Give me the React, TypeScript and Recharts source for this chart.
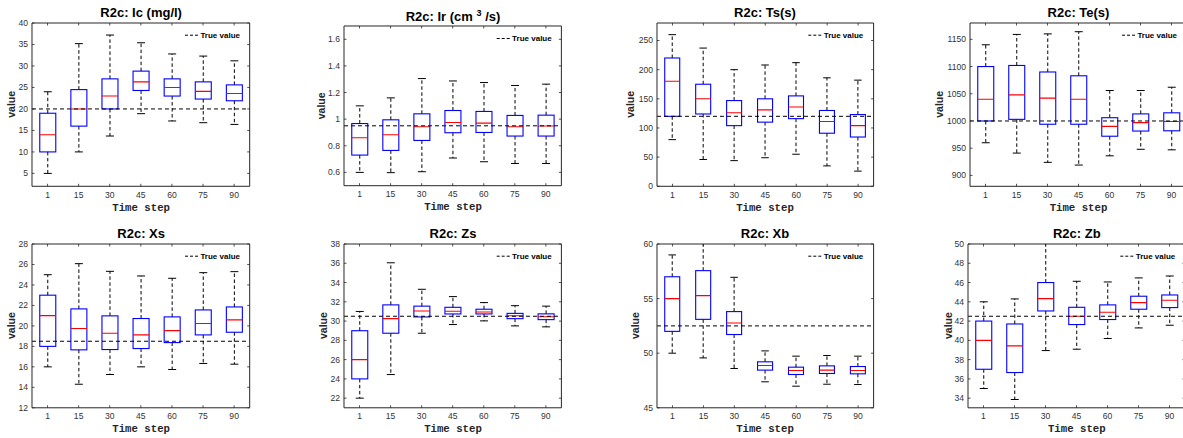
import React from 'react';
import { ComposedChart, Bar, XAxis, YAxis, ReferenceLine } from 'recharts';

const timeSteps = ['1', '15', '30', '45', '60', '75', '90'];

// each entry: [lower whisker, Q1, median, Q3, upper whisker]
const icBoxes = [[5, 10, 14, 19, 24], [10, 16, 20, 24.5, 35.2], [13.7, 20, 23, 27, 37.2], [18.9, 24.3, 26.3, 28.8, 35.4], [17.2, 23, 25, 27, 32.8], [16.8, 22.3, 24.1, 26.3, 32.3], [16.4, 21.9, 23.6, 25.6, 31.2]];
const irBoxes = [[0.6, 0.73, 0.86, 0.967, 1.1], [0.598, 0.765, 0.883, 0.995, 1.16], [0.605, 0.84, 0.943, 1.04, 1.305], [0.708, 0.898, 0.975, 1.065, 1.287], [0.68, 0.9, 0.97, 1.058, 1.275], [0.667, 0.873, 0.943, 1.028, 1.253], [0.667, 0.873, 0.948, 1.03, 1.263]];
const tsBoxes = [[80, 120, 180, 220, 260], [46, 124, 150, 175, 237], [44, 104, 126, 147, 200], [49, 110, 131, 150, 208], [55, 116, 136, 155, 212], [35, 91, 111, 130, 186], [26, 84.5, 104, 123, 182]];
const teBoxes = [[960, 1000, 1040, 1100, 1140], [941, 1003, 1048, 1102, 1159], [924, 994, 1042, 1090, 1160], [919, 994, 1040, 1083, 1164], [936, 972, 990, 1006, 1056], [948, 981.5, 997, 1013, 1056], [947, 982, 999, 1015, 1062]];
const xsBoxes = [[16, 18, 21, 23, 25], [14.3, 17.66, 19.74, 21.66, 26.08], [15.25, 17.69, 19.28, 20.98, 25.33], [16, 17.79, 19.12, 20.72, 24.88], [15.74, 18.37, 19.54, 20.88, 24.65], [16.33, 19.12, 20.23, 21.56, 25.2], [16.26, 19.38, 20.59, 21.85, 25.3]];
const zsBoxes = [[22, 24, 26, 29, 31], [24.45, 28.74, 30.26, 31.68, 36.05], [28.74, 30.43, 31.05, 31.55, 33.3], [29.64, 30.74, 31.02, 31.43, 32.54], [30.02, 30.74, 30.95, 31.23, 31.92], [29.5, 30.25, 30.55, 30.8, 31.6], [29.4, 30.15, 30.45, 30.75, 31.55]];
const xbBoxes = [[50, 52, 55, 57, 59], [49.57, 53.1, 55.27, 57.56, 61], [48.6, 51.71, 52.77, 53.81, 56.95], [47.38, 48.45, 48.87, 49.21, 50.21], [46.98, 48.05, 48.41, 48.72, 49.73], [47.16, 48.14, 48.45, 48.84, 49.79], [47.13, 48.11, 48.41, 48.78, 49.73]];
const zbBoxes = [[35, 37, 40, 42, 44], [33.86, 36.66, 39.43, 41.7, 44.3], [38.94, 43.05, 44.33, 46, 51], [39.08, 41.64, 42.5, 43.43, 46.13], [40.19, 42.16, 42.92, 43.68, 46.06], [41.29, 43.23, 43.92, 44.58, 46.48], [41.57, 43.4, 44.16, 44.71, 46.68]];

const trueValues = [20, 0.95, 120, 1000, 18.5, 30.5, 52.5, 42.5];

const icTicks = [5, 10, 15, 20, 25, 30, 35, 40];
const irTicks = [0.6, 0.8, 1, 1.2, 1.4, 1.6];
const tsTicks = [0, 50, 100, 150, 200, 250];
const teTicks = [900, 950, 1000, 1050, 1100, 1150];
const xsTicks = [12, 14, 16, 18, 20, 22, 24, 26, 28];
const zsTicks = [22, 24, 26, 28, 30, 32, 34, 36, 38];
const xbTicks = [45, 50, 55, 60];
const zbTicks = [34, 36, 38, 40, 42, 44, 46, 48, 50];

const panels = [
  { title: 'R2c: Ic (mg/l)', boxes: icBoxes, ticks: icTicks, domain: [2, 40], L: 32.3, T: 22.7, W: 217.7, H: 163.3, lab: 20.6 },
  { title: 'IR', boxes: irBoxes, ticks: irTicks, domain: [0.5, 1.7], L: 344.3, T: 26, W: 217.4, H: 159.7, lab: 22.6 },
  { title: 'R2c: Ts(s)', boxes: tsBoxes, ticks: tsTicks, domain: [0, 280], L: 656.7, T: 22.7, W: 216.6, H: 163.3, lab: 26 },
  { title: 'R2c: Te(s)', boxes: teBoxes, ticks: teTicks, domain: [880, 1180], L: 970, T: 22.7, W: 217, H: 163.3, lab: 30 },
  { title: 'R2c: Xs', boxes: xsBoxes, ticks: xsTicks, domain: [12, 28], L: 32.3, T: 243.7, W: 217.7, H: 163.8, lab: 20.6 },
  { title: 'R2c: Zs', boxes: zsBoxes, ticks: zsTicks, domain: [21, 38], L: 344.3, T: 243.7, W: 217.4, H: 163.8, lab: 21 },
  { title: 'R2c: Xb', boxes: xbBoxes, ticks: xbTicks, domain: [45, 60], L: 656.7, T: 243.7, W: 216.6, H: 163.8, lab: 20.7 },
  { title: 'R2c: Zb', boxes: zbBoxes, ticks: zbTicks, domain: [33, 50], L: 968.3, T: 243.7, W: 217, H: 163.8, lab: 20 },
];

const AX = '#262626';
const SANS = '"Liberation Sans", Arial, Helvetica, sans-serif';
const MONO = '"Liberation Mono", "Courier New", monospace';

const fmt = (v: number) => String(Number(v.toFixed(3)));

const BoxShape = (props: any) => {
  const { x, y, width, height, payload } = props;
  if (!payload || !isFinite(x) || !isFinite(y) || !isFinite(height)) return null;
  const { lo, q1, med, q3, hi } = payload;
  const span = hi - lo;
  const py = (v: number) => y + ((hi - v) / span) * height;
  const cx = x + width / 2;
  const cap = width / 4;
  return (
    <g>
      <line x1={cx} x2={cx} y1={py(q3)} y2={py(hi)} stroke="#000" strokeWidth={1} strokeDasharray="3.5 2.5" />
      <line x1={cx} x2={cx} y1={py(q1)} y2={py(lo)} stroke="#000" strokeWidth={1} strokeDasharray="3.5 2.5" />
      <line x1={cx - cap} x2={cx + cap} y1={py(hi)} y2={py(hi)} stroke="#000" strokeWidth={1} />
      <line x1={cx - cap} x2={cx + cap} y1={py(lo)} y2={py(lo)} stroke="#000" strokeWidth={1} />
      <rect x={x} y={py(q3)} width={width} height={py(q1) - py(q3)} fill="none" stroke="#0000ff" strokeWidth={1.1} />
      <line x1={x} x2={x + width} y1={py(med)} y2={py(med)} stroke="#ff0000" strokeWidth={1.1} />
    </g>
  );
};

const BottomTick = (props: any) => {
  const { x, y, payload } = props;
  return (
    <g>
      <line x1={x} x2={x} y1={y} y2={y - 2.5} stroke={AX} strokeWidth={0.8} />
      <text x={x} y={y + 11.3} textAnchor="middle" fontSize={8.6} fontFamily={SANS} fill="#333">{payload.value}</text>
    </g>
  );
};
const TopTick = (props: any) => {
  const { x, y } = props;
  return <line x1={x} x2={x} y1={y} y2={y + 2.5} stroke={AX} strokeWidth={0.8} />;
};
const LeftTick = (props: any) => {
  const { x, y, payload } = props;
  return (
    <g>
      <line x1={x} x2={x + 2.5} y1={y} y2={y} stroke={AX} strokeWidth={0.8} />
      <text x={x - 4} y={y + 3} textAnchor="end" fontSize={8.6} fontFamily={SANS} fill="#333">{fmt(payload.value)}</text>
    </g>
  );
};
const RightTick = (props: any) => {
  const { x, y } = props;
  return <line x1={x} x2={x - 2.5} y1={y} y2={y} stroke={AX} strokeWidth={0.8} />;
};

const ML = 10, YW = 40, MT = 20, XTH = 10, MR = 5, YRW = 10, MB = 10, XBH = 30;

function Panel({ p, tv }: { p: any; tv: number }) {
  const data = timeSteps.map((t, i) => ({
    t,
    lo: p.boxes[i][0],
    q1: p.boxes[i][1],
    med: p.boxes[i][2],
    q3: p.boxes[i][3],
    hi: p.boxes[i][4],
  }));
  const offL = ML + YW, offT = MT + XTH, offR = MR + YRW, offB = MB + XBH;
  return (
    <div style={{ position: 'absolute', left: p.L - offL, top: p.T - offT }}>
      <ComposedChart
        width={p.W + offL + offR}
        height={p.H + offT + offB}
        data={data}
        margin={{ top: MT, right: MR, bottom: MB, left: ML }}
        barCategoryGap="25%"
      >
        <XAxis dataKey="t" type="category" height={XBH} tickSize={0} tickMargin={0} tickLine={false}
          axisLine={{ stroke: AX, strokeWidth: 1 }} tick={<BottomTick />} interval={0} />
        <XAxis xAxisId="top" dataKey="t" type="category" orientation="top" height={XTH} tickSize={0} tickMargin={0}
          tickLine={false} axisLine={{ stroke: AX, strokeWidth: 1 }} tick={<TopTick />} interval={0} />
        <YAxis type="number" domain={p.domain} ticks={p.ticks} allowDataOverflow width={YW} tickSize={0} tickMargin={0}
          tickLine={false} axisLine={{ stroke: AX, strokeWidth: 1 }} tick={<LeftTick />} interval={0} />
        <YAxis yAxisId="r" orientation="right" type="number" domain={p.domain} ticks={p.ticks} allowDataOverflow width={YRW}
          tickSize={0} tickMargin={0} tickLine={false} axisLine={{ stroke: AX, strokeWidth: 1 }} tick={<RightTick />} interval={0} />
        <Bar dataKey={(d: any) => [d.lo, d.hi]} shape={<BoxShape />} isAnimationActive={false} />
        <ReferenceLine y={tv} stroke="#000" strokeWidth={1} strokeDasharray="4 3" />
      </ComposedChart>
    </div>
  );
}

function Overlay() {
  return (
    <svg width={1183} height={438} style={{ position: 'absolute', left: 0, top: 0, pointerEvents: 'none' }}>
      {panels.map((p, i) => {
        const cx = p.L + p.W / 2;
        const cy = p.T + p.H / 2;
        const right = p.L + p.W;
        return (
          <g key={i}>
            {i === 1 ? (
              <text x={cx} y={p.T - 5.4} textAnchor="middle" fontSize={13} fontWeight="bold" fontFamily={SANS} fill="#000">
                R2c: Ir (cm <tspan fontSize={9} dy={-5}>3</tspan><tspan dy={5}> /s)</tspan>
              </text>
            ) : (
              <text x={cx} y={p.T - 5.4} textAnchor="middle" fontSize={13} fontWeight="bold" fontFamily={SANS} fill="#000">
                {p.title}
              </text>
            )}
            <text x={cx} y={p.T + p.H + 24.5} textAnchor="middle" fontSize={10.7} fontWeight="bold" fontFamily={MONO} fill={AX}>
              Time step
            </text>
            <text x={p.L - p.lab + 3.5} y={cy} transform={`rotate(-90 ${p.L - p.lab + 3.5} ${cy})`} textAnchor="middle"
              fontSize={10.5} fontWeight="bold" fontFamily={SANS} fill={AX}>
              value
            </text>
            <line x1={right - 65} x2={right - 51.5} y1={p.T + 12.5} y2={p.T + 12.5} stroke="#000" strokeWidth={1} strokeDasharray="3 2" />
            <text x={right - 10} y={p.T + 15.3} textAnchor="end" fontSize={8} fontWeight="bold" fontFamily={SANS} fill="#000">
              True value
            </text>
          </g>
        );
      })}
    </svg>
  );
}

export default function App() {
  return (
    <div style={{ position: 'fixed', left: 0, top: 0, width: 1183, height: 438, overflow: 'hidden', background: '#fff' }}>
      {panels.map((p, i) => (
        <Panel key={i} p={p} tv={trueValues[i]} />
      ))}
      <Overlay />
    </div>
  );
}
